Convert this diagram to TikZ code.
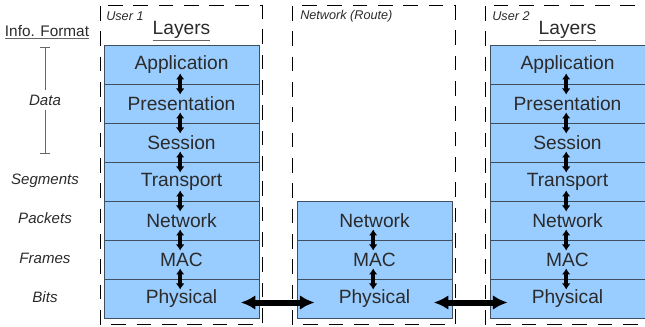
\documentclass[tikz,border=0pt]{standalone}
\usepackage{fontspec}
\setmainfont{Liberation Sans}
\usetikzlibrary{arrows.meta}
\definecolor{layerfill}{HTML}{99CCFF}
\definecolor{layerline}{HTML}{3F4F5F}
\definecolor{inkgray}{HTML}{2B2B2B}
\definecolor{rulegray}{HTML}{666666}

\newcommand{\grayul}[1]{{\color{rulegray}\underline{\color{inkgray}#1}}}

\tikzset{
  layer/.style={
    draw=layerline,
    fill=layerfill,
    line width=0.6pt,
    minimum width=116.25pt,
    minimum height=29.25pt,
    inner sep=0pt,
    text=inkgray,
    font=\fontsize{14.4}{16}\selectfont
  },
  zone/.style={draw=black, line width=0.75pt, dash pattern=on 11pt off 8pt},
  updown/.style={
    {Latex[length=4.5pt,width=6.5pt]}-{Latex[length=4.5pt,width=6.5pt]},
    line width=2.6pt,
    shorten <=6.75pt,
    shorten >=6.75pt
  },
  link/.style={{Latex[length=11pt,width=11pt]}-{Latex[length=11pt,width=11pt]}, line width=4.5pt},
  fmt/.style={text=inkgray, font=\fontsize{11.3}{13}\selectfont\itshape},
  tag/.style={text=inkgray, font=\fontsize{9.5}{11}\selectfont\itshape, anchor=west, inner sep=0pt},
  head/.style={text=inkgray, font=\fontsize{14.4}{16}\selectfont},
  bracket/.style={draw=rulegray, line width=0.7pt}
}

\begin{document}
\begin{tikzpicture}[x=0.75pt,y=-0.75pt]
  \useasboundingbox (0,0) rectangle (645,327);

  % dashed zones
  \draw[zone] (100,6) rectangle (262,324);
  \draw[zone] (292,6) rectangle (455,324);
  \draw[zone] (485,6) rectangle (660,324);

  % zone titles
  \node[tag] (user1) at (106,16) {User 1};
  \node[tag] (route) at (300,16) {Network (Route)};
  \node[tag] (user2) at (492,16) {User 2};
  \node[head] (layers1) at (181.5,31) {\grayul{Layers}};
  \node[head] (layers2) at (567.5,31) {\grayul{Layers}};

  % info format column
  \node[text=inkgray, font=\fontsize{11.5}{13}\selectfont] (infofmt) at (47,32) {\grayul{Info. Format}};
  \node[fmt] (data) at (45,100) {Data};
  \coordinate (datatop) at (45,47);
  \coordinate (databot) at (45,154);
  \draw[bracket, {Bar[width=8pt]}-] (datatop) -- (data);
  \draw[bracket, -{Bar[width=8pt]}] (data) -- (databot);
  \foreach \nm/\txt/\yy in {seg/Segments/181, pkt/Packets/218, frm/Frames/258, bit/Bits/297}
    \node[fmt] (\nm) at (45,\yy) {\txt};

  % user stacks
  \foreach \nm/\txt [count=\i from 0] in {app/Application, pre/Presentation, ses/Session,
      tra/Transport, net/Network, mac/MAC, phy/Physical} {
    \node[layer] (u1\nm) at (181.5,{64.5+39*\i}) {\txt};
    \node[layer] (u2\nm) at (567.5,{64.5+39*\i}) {\txt};
  }

  % router stack
  \foreach \nm/\txt [count=\i from 4] in {net/Network, mac/MAC, phy/Physical}
    \node[layer] (r\nm) at (374.5,{64.5+39*\i}) {\txt};

  % arrows between layers
  \foreach \a/\b in {app/pre, pre/ses, ses/tra, tra/net, net/mac, mac/phy} {
    \draw[updown] ([xshift=-1pt]u1\a.center) -- ([xshift=-1pt]u1\b.center);
    \draw[updown] ([xshift=-1pt]u2\a.center) -- ([xshift=-1pt]u2\b.center);
  }
  \foreach \a/\b in {net/mac, mac/phy}
    \draw[updown] ([xshift=-1pt]r\a.center) -- ([xshift=-1pt]r\b.center);

  % physical links
  \draw[link] ([xshift=-14pt,yshift=-3pt]u1phy.east) -- ([xshift=13.5pt,yshift=-3pt]rphy.west);
  \draw[link] ([xshift=-14pt,yshift=-3pt]rphy.east) -- ([xshift=13.5pt,yshift=-3pt]u2phy.west);
\end{tikzpicture}
\end{document}
